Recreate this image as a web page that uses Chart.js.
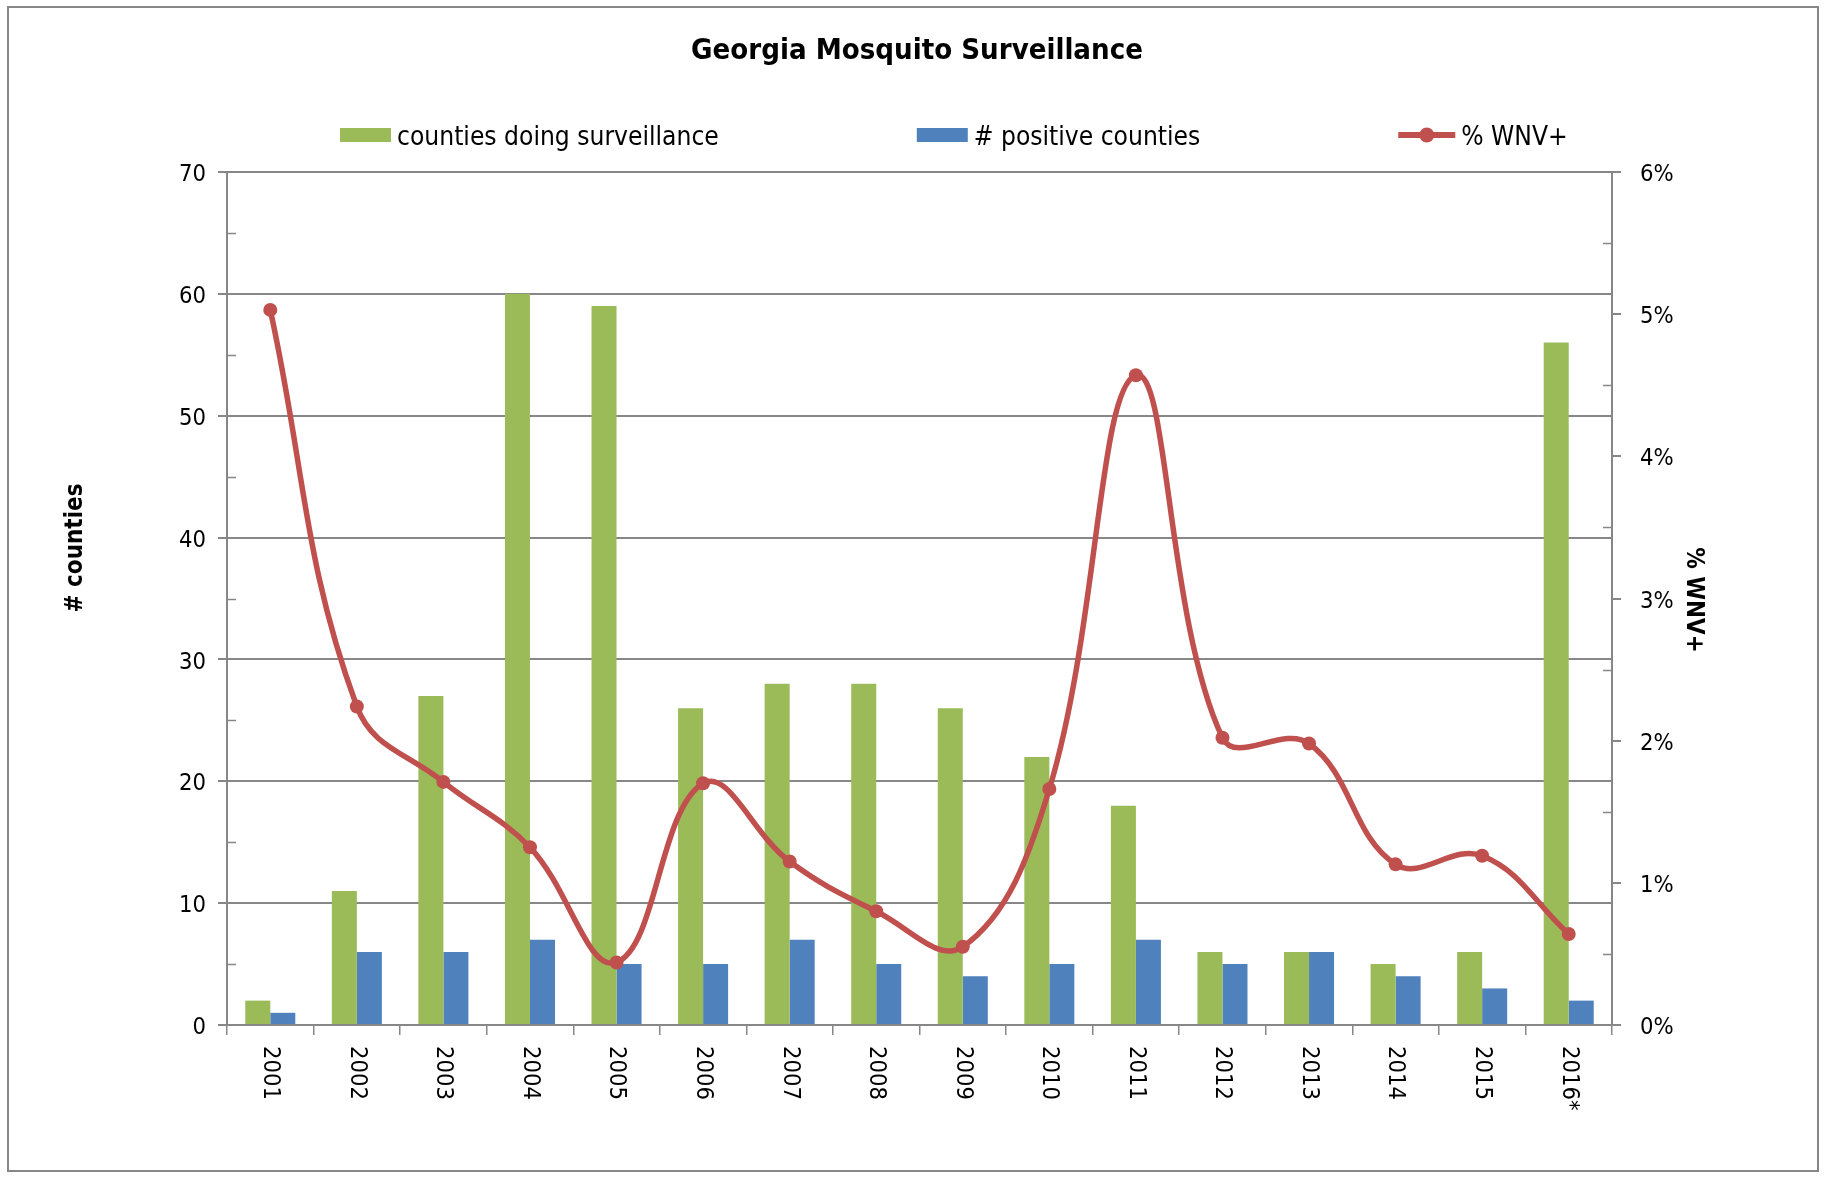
<!DOCTYPE html>
<html>
<head>
<meta charset="utf-8">
<title>Georgia Mosquito Surveillance</title>
<script src="https://cdn.jsdelivr.net/npm/chart.js@4.4.1/dist/chart.umd.min.js"></script>
<style>
  html, body { margin: 0; padding: 0; background: #ffffff; }
  canvas { display: block; }
</style>
</head>
<body>
<canvas id="chart" width="1830" height="1177"></canvas>
<script>
// ---- data ----
const years = ['2001', '2002', '2003', '2004', '2005', '2006', '2007', '2008',
               '2009', '2010', '2011', '2012', '2013', '2014', '2015', '2016*'];
const countiesSurveilling = [2, 11, 27, 60, 59, 26, 28, 28, 26, 22, 18, 6, 6, 5, 6, 56];
const positiveCounties    = [1, 6, 6, 7, 5, 5, 7, 5, 4, 5, 7, 5, 6, 4, 3, 2];
const wnvPositivePct      = [5.03, 2.24, 1.71, 1.25, 0.44, 1.70, 1.15, 0.80,
                             0.55, 1.66, 4.57, 2.02, 1.98, 1.13, 1.19, 0.64];
const countAxis = { min: 0, max: 70, step: 10 };
const pctAxis   = { min: 0, max: 6,  step: 1 };

const chartTitle = 'Georgia Mosquito Surveillance';
const leftAxisTitle = '# counties';
const rightAxisTitle = '% WNV+';

// ---- styling ----
const GREEN = '#9BBB59';
const BLUE  = '#4F81BD';
const RED   = '#C0504D';
const AXIS  = '#878787';
const FAMILY = "'DejaVu Sans Condensed', 'DejaVu Sans', sans-serif";

// pick font sizes so that a sample string spans a given width
const measureCtx = document.createElement('canvas').getContext('2d');
function sizeForWidth(text, weight, width) {
  measureCtx.font = `${weight} 100px ${FAMILY}`;
  return 100 * width / measureCtx.measureText(text).width;
}
const TITLE_SIZE  = sizeForWidth(chartTitle, 'bold', 452);
const LEGEND_SIZE = sizeForWidth('counties doing surveillance', 'normal', 322);
const TICK_SIZE   = sizeForWidth('2001', 'normal', 54);
const AXIS_TITLE_SIZE = sizeForWidth(leftAxisTitle, 'bold', 129);

// outer frame and white background
const framePlugin = {
  id: 'frame',
  beforeDraw(chart) {
    const { ctx } = chart;
    ctx.save();
    ctx.fillStyle = '#ffffff';
    ctx.fillRect(0, 0, chart.width, chart.height);
    ctx.strokeStyle = AXIS;
    ctx.lineWidth = 2;
    ctx.strokeRect(8, 7, chart.width - 20, chart.height - 13);
    ctx.restore();
  }
};

// title, legend, axis titles, rotated category labels, minor tick marks
const decorPlugin = {
  id: 'decor',
  afterDraw(chart) {
    const { ctx, scales } = chart;
    const area = chart.chartArea;
    ctx.save();

    // title
    ctx.fillStyle = '#000';
    ctx.font = `bold ${TITLE_SIZE}px ${FAMILY}`;
    ctx.textAlign = 'center';
    ctx.textBaseline = 'alphabetic';
    ctx.fillText(chartTitle, 917, 59);

    // legend
    ctx.font = `${LEGEND_SIZE}px ${FAMILY}`;
    ctx.textAlign = 'left';
    let x = 340;
    const legendY = 135;
    chart.data.datasets.forEach(ds => {
      let symW;
      if (ds.type === 'line') {
        symW = 57;
        ctx.strokeStyle = ds.borderColor;
        ctx.lineWidth = 6;
        ctx.beginPath();
        ctx.moveTo(x, legendY);
        ctx.lineTo(x + symW, legendY);
        ctx.stroke();
        ctx.fillStyle = ds.pointBackgroundColor;
        ctx.beginPath();
        ctx.arc(x + symW / 2, legendY, 7.5, 0, Math.PI * 2);
        ctx.fill();
      } else {
        symW = 51;
        ctx.fillStyle = ds.backgroundColor;
        ctx.fillRect(x, legendY - 7, symW, 14);
      }
      x += symW + 6;
      ctx.fillStyle = '#000';
      ctx.fillText(ds.label, x, legendY + 10);
      x += ctx.measureText(ds.label).width + 198;
    });

    // axis titles
    ctx.font = `bold ${AXIS_TITLE_SIZE}px ${FAMILY}`;
    ctx.textAlign = 'center';
    ctx.textBaseline = 'middle';
    ctx.save();
    ctx.translate(76, 548);
    ctx.rotate(-Math.PI / 2);
    ctx.fillText(leftAxisTitle, 0, 0);
    ctx.restore();
    ctx.save();
    ctx.translate(1693, 600);
    ctx.rotate(Math.PI / 2);
    ctx.fillText(rightAxisTitle, 0, 0);
    ctx.restore();

    // category labels, reading top to bottom
    const xs = scales.x;
    ctx.font = `${TICK_SIZE}px ${FAMILY}`;
    ctx.textAlign = 'left';
    ctx.textBaseline = 'middle';
    chart.data.labels.forEach((lab, i) => {
      ctx.save();
      ctx.translate(xs.getPixelForValue(i), xs.top + 21);
      ctx.rotate(Math.PI / 2);
      ctx.fillText(lab, 0, 0);
      ctx.restore();
    });

    // minor tick marks halfway between major ticks, on the inner side
    ctx.strokeStyle = AXIS;
    ctx.lineWidth = 1.5;
    const minor = (scale, inward) => {
      const t = scale.ticks;
      for (let i = 0; i < t.length - 1; i++) {
        const y = Math.round(scale.getPixelForValue((t[i].value + t[i + 1].value) / 2)) + 0.5;
        const x0 = inward > 0 ? area.left : area.right;
        ctx.beginPath();
        ctx.moveTo(x0, y);
        ctx.lineTo(x0 + inward * 9, y);
        ctx.stroke();
      }
    };
    minor(scales.y, 1);
    minor(scales.y1, -1);

    ctx.restore();
  }
};

new Chart(document.getElementById('chart'), {
  data: {
    labels: years,
    datasets: [
      {
        type: 'bar',
        label: 'counties doing surveillance',
        data: countiesSurveilling,
        backgroundColor: GREEN,
        yAxisID: 'y',
        order: 2,
        categoryPercentage: 0.578,
        barPercentage: 1.0
      },
      {
        type: 'bar',
        label: '# positive counties',
        data: positiveCounties,
        backgroundColor: BLUE,
        yAxisID: 'y',
        order: 2,
        categoryPercentage: 0.578,
        barPercentage: 1.0
      },
      {
        type: 'line',
        label: '% WNV+',
        data: wnvPositivePct,
        borderColor: RED,
        backgroundColor: RED,
        pointBackgroundColor: RED,
        pointBorderColor: RED,
        pointBorderWidth: 0,
        pointRadius: 7,
        borderWidth: 5.5,
        tension: 0.4,
        yAxisID: 'y1',
        order: 0
      }
    ]
  },
  options: {
    responsive: false,
    animation: false,
    devicePixelRatio: 1,
    layout: { padding: { top: 172, left: 127, right: 118, bottom: 52 } },
    plugins: {
      legend: { display: false },
      title: { display: false },
      tooltip: { enabled: false }
    },
    scales: {
      x: {
        type: 'category',
        afterFit: s => { s.height = 100; },
        grid: { display: true, drawOnChartArea: false, drawTicks: true, tickLength: 10,
                color: AXIS, lineWidth: 1.5, offset: true },
        border: { display: true, color: AXIS, width: 2 },
        ticks: { display: false }
      },
      y: {
        type: 'linear',
        position: 'left',
        min: countAxis.min,
        max: countAxis.max,
        afterFit: s => { s.width = 100; },
        grid: { color: AXIS, lineWidth: 2, tickLength: 9 },
        border: { display: true, color: AXIS, width: 2 },
        ticks: {
          stepSize: countAxis.step,
          padding: 12,
          labelOffset: 3,
          color: '#000',
          font: { family: FAMILY, size: TICK_SIZE }
        }
      },
      y1: {
        type: 'linear',
        position: 'right',
        min: pctAxis.min,
        max: pctAxis.max,
        afterFit: s => { s.width = 100; },
        grid: { drawOnChartArea: false, color: AXIS, lineWidth: 2, tickLength: 9 },
        border: { display: true, color: AXIS, width: 2 },
        ticks: {
          stepSize: pctAxis.step,
          padding: 19,
          labelOffset: 3,
          color: '#000',
          font: { family: FAMILY, size: TICK_SIZE },
          callback: v => v + '%'
        }
      }
    }
  },
  plugins: [framePlugin, decorPlugin]
});
</script>
</body>
</html>
